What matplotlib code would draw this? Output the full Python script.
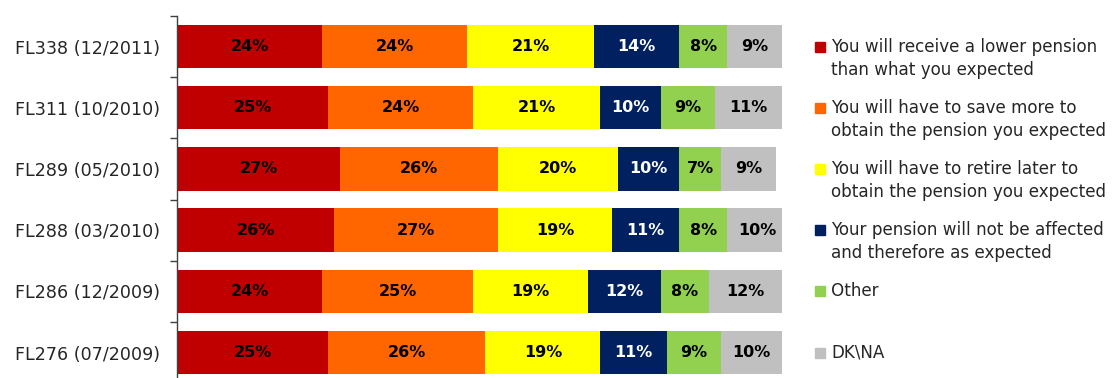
import matplotlib
matplotlib.use("Agg")
import matplotlib.pyplot as plt
import matplotlib.transforms as mtransforms
import numpy as np

surveys = ["FL338 (12/2011)", "FL311 (10/2010)", "FL289 (05/2010)",
           "FL288 (03/2010)", "FL286 (12/2009)", "FL276 (07/2009)"]

lower_pension = [24, 25, 27, 26, 24, 25]
save_more = [24, 24, 26, 27, 25, 26]
retire_later = [21, 21, 20, 19, 19, 19]
not_affected = [14, 10, 10, 11, 12, 11]
other = [8, 9, 7, 8, 8, 9]
dk_na = [9, 11, 9, 10, 12, 10]

series_labels = [
    "You will receive a lower pension\nthan what you expected",
    "You will have to save more to\nobtain the pension you expected",
    "You will have to retire later to\nobtain the pension you expected",
    "Your pension will not be affected\nand therefore as expected",
    "Other",
    "DK\\NA",
]
series_values = [lower_pension, save_more, retire_later, not_affected, other, dk_na]
colors = ["#C00000", "#FF6600", "#FFFF00", "#002060", "#92D050", "#C0C0C0"]
text_colors = ["black", "black", "black", "white", "black", "black"]

plt.rcParams["font.family"] = ["DejaVu Sans"]

fig = plt.figure(figsize=(11.2, 3.78), dpi=100)
ax = fig.add_axes([0.158, -0.0135, 0.540, 0.9712])

y = np.arange(len(surveys))
left = np.zeros(len(surveys))
for vals, col, tcol in zip(series_values, colors, text_colors):
    vals = np.array(vals, dtype=float)
    ax.barh(y, vals, left=left, height=0.71, color=col, edgecolor="none")
    for yi, (l, v) in enumerate(zip(left, vals)):
        ax.text(l + v / 2, yi, f"{int(v)}%", ha="center", va="center",
                fontsize=11.5, fontweight="bold", color=tcol)
    left += vals

ax.set_xlim(0, 100)
ax.set_ylim(len(surveys) - 0.5, -0.5)

for s in ["top", "right", "bottom"]:
    ax.spines[s].set_visible(False)
ax.spines["left"].set_color("#404040")
ax.spines["left"].set_linewidth(1.0)
ax.set_xticks([])
ax.set_yticks(y)
ax.set_yticklabels(surveys, fontsize=12.6, color="#262626")
ax.tick_params(axis="y", which="major", length=0, pad=12.5)
ax.set_yticks(np.arange(-0.5, len(surveys), 1.0), minor=True)
ax.tick_params(axis="y", which="minor", length=5, width=1.0, color="#404040")

# Legend entries, each aligned with a bar row
blend = mtransforms.blended_transform_factory(fig.transFigure, ax.transData)
line_gap = 23 / 61.0
for i, (lab, col) in enumerate(zip(series_labels, colors)):
    ax.plot([820 / 1120], [i], marker="s", markersize=6.5, color=col,
            transform=blend, clip_on=False, linestyle="none")
    for j, line in enumerate(lab.split("\n")):
        ax.text(831 / 1120, i + j * line_gap, line, transform=blend,
                ha="left", va="center", fontsize=12.1, color="#262626",
                clip_on=False)

fig.savefig("out.png", dpi=100)
